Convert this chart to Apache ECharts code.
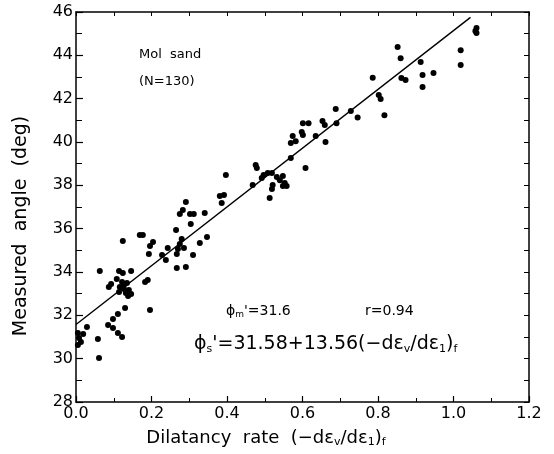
<!DOCTYPE html>
<html>
<head>
<meta charset="utf-8">
<script src="https://cdn.jsdelivr.net/npm/echarts@6/dist/echarts.min.js"></script>
<style>
  html, body { margin: 0; padding: 0; background: #fff; }
  #chart { width: 554px; height: 454px; }
</style>
</head>
<body>
<div id="chart"></div>
<script>
// Mol sand: dilatancy rate at failure vs measured friction angle (130 tests)
const dilatancyRate = [
  0.005, 0.019, 0.008, 0.013, 0.005, 0.029, 0.058, 0.061, 0.063,
  0.085, 0.098, 0.111, 0.122, 0.098, 0.111, 0.130, 0.196, 0.087, 0.093,
  0.108, 0.122, 0.135, 0.116, 0.127, 0.140, 0.146, 0.132, 0.138, 0.127, 0.114,
  0.114, 0.124, 0.146, 0.183, 0.190, 0.193, 0.228, 0.238,
  0.124, 0.169, 0.177, 0.196, 0.204, 0.243, 0.265,
  0.280, 0.275, 0.270, 0.267, 0.286,
  0.291, 0.275, 0.283, 0.302, 0.312, 0.304, 0.341, 0.328, 0.347, 0.310,
  0.267, 0.291, 0.386, 0.381, 0.392, 0.397,
  0.476, 0.479, 0.468, 0.492, 0.497, 0.508, 0.519, 0.513, 0.532, 0.521,
  0.519, 0.540, 0.548, 0.558, 0.548, 0.569, 0.608, 0.574, 0.569, 0.582,
  0.598, 0.601, 0.601, 0.616, 0.635, 0.653, 0.659, 0.661, 0.690, 0.688,
  0.728, 0.746, 0.553,
  0.786, 0.802, 0.807, 0.817, 0.852, 0.860, 0.862, 0.873, 0.913, 0.918,
  0.918, 0.947, 1.019, 1.019, 1.061, 1.058, 1.061
];
const measuredAngle = [
  31.18, 31.14, 30.95, 30.77, 30.63, 31.46, 30.91, 30.03, 34.05,
  31.55, 31.41, 31.18, 31.00, 31.83, 32.06, 32.34, 32.25, 33.31, 33.45,
  33.68, 33.54, 33.49, 33.31, 33.21, 33.17, 32.98, 33.03, 32.89, 33.40, 33.08,
  34.05, 33.95, 34.05, 33.54, 33.63, 34.83, 34.78, 34.55,
  35.43, 35.71, 35.71, 35.20, 35.38, 35.11, 35.94,
  35.52, 35.29, 35.06, 34.83, 35.11,
  37.23, 36.68, 36.86, 36.68, 36.68, 36.21, 36.72, 35.34, 35.61, 34.78,
  34.18, 34.23, 37.18, 37.51, 37.55, 38.48,
  38.94, 38.80, 38.01, 38.34, 38.48, 38.57, 38.57, 37.41, 38.38, 38.01,
  37.83, 38.24, 37.97, 37.97, 38.43, 39.26, 38.80, 40.28, 39.95, 40.04,
  40.46, 40.32, 40.87, 40.87, 40.28, 40.97, 40.78, 40.00, 40.87, 41.52,
  41.43, 41.13, 38.11,
  42.97, 42.17, 41.98, 41.24, 44.38, 43.87, 42.95, 42.86, 43.69, 43.09,
  42.54, 43.18, 44.24, 43.55, 45.26, 45.12, 45.03
];

// Least-squares fit as printed on the figure
const fitIntercept = 31.58;
const fitSlope = 13.56;
const fitRange = [0, 1.045];

const xTickLabels = ['0.0', '0.2', '0.4', '0.6', '0.8', '1.0', '1.2'];
const yTickLabels = ['28', '30', '32', '34', '36', '38', '40', '42', '44', '46'];

const FONT = 'DejaVu Sans';
const points = dilatancyRate.map((x, i) => [x, measuredAngle[i]]);
const fitLine = fitRange.map(x => [x, fitIntercept + fitSlope * x]);

const axisLine = { show: true, onZero: false, lineStyle: { color: '#000', width: 1.5 } };

const chart = echarts.init(document.getElementById('chart'), null, { renderer: 'canvas' });
chart.setOption({
  animation: false,
  backgroundColor: '#fff',
  grid: { left: 76, right: 25, top: 12, bottom: 52, containLabel: false },
  xAxis: [
    {
      type: 'value', position: 'bottom', min: 0, max: 1.2, interval: 0.2,
      axisLine,
      axisTick: { inside: true, length: 6, lineStyle: { color: '#000', width: 1.2 } },
      minorTick: { show: true, splitNumber: 2, length: 4, lineStyle: { color: '#000', width: 1 } },
      splitLine: { show: false },
      axisLabel: {
        color: '#000', fontSize: 16, fontFamily: FONT, margin: 4,
        formatter: v => xTickLabels[Math.round(v / 0.2)]
      }
    },
    {
      type: 'value', position: 'top', min: 0, max: 1.2, interval: 0.1,
      axisLine,
      axisTick: { inside: true, length: 4, lineStyle: { color: '#000', width: 1 } },
      splitLine: { show: false },
      axisLabel: { show: false }
    }
  ],
  yAxis: [
    {
      type: 'value', position: 'left', min: 28, max: 46, interval: 2,
      axisLine,
      axisTick: { inside: true, length: 7, lineStyle: { color: '#000', width: 1.2 } },
      minorTick: { show: true, splitNumber: 2, length: 6, lineStyle: { color: '#000', width: 1 } },
      splitLine: { show: false },
      axisLabel: {
        color: '#000', fontSize: 16, fontFamily: FONT, margin: 3,
        formatter: v => yTickLabels[Math.round((v - 28) / 2)]
      }
    },
    {
      type: 'value', position: 'right', min: 28, max: 46, interval: 1,
      axisLine,
      axisTick: { inside: true, length: 5, lineStyle: { color: '#000', width: 1 } },
      splitLine: { show: false },
      axisLabel: { show: false }
    }
  ],
  series: [
    {
      type: 'line', name: 'fit', data: fitLine, xAxisIndex: 0, yAxisIndex: 0,
      symbol: 'none', lineStyle: { color: '#000', width: 1.4 }, silent: true
    },
    {
      type: 'scatter', name: 'Mol sand', data: points, xAxisIndex: 0, yAxisIndex: 0,
      symbol: 'circle', symbolSize: 6, itemStyle: { color: '#000', opacity: 1 }
    }
  ],
  graphic: [
    {
      type: 'text', x: 21, y: 226, rotation: Math.PI / 2,
      style: {
        text: 'Measured  angle  (deg)', fill: '#000', font: '19px "DejaVu Sans"',
        align: 'center', verticalAlign: 'middle', textAlign: 'center', textVerticalAlign: 'middle'
      }
    },
    {
      type: 'text', x: 266, y: 438,
      style: {
        text: '{m|Dilatancy  rate  (−dε}{s|v}{m|/dε}{s|1}{m|)}{s|f}',
        fill: '#000', align: 'center', verticalAlign: 'middle',
        textAlign: 'center', textVerticalAlign: 'middle',
        rich: {
          m: { fontSize: 18, fontFamily: FONT, lineHeight: 20, fill: '#000', color: '#000' },
          s: { fontSize: 11, fontFamily: FONT, lineHeight: 6, verticalAlign: 'bottom', fill: '#000', color: '#000' }
        }
      }
    },
    {
      type: 'text', x: 139, y: 55,
      style: { text: 'Mol  sand', fill: '#000', font: '13px "DejaVu Sans"', verticalAlign: 'middle', textVerticalAlign: 'middle' }
    },
    {
      type: 'text', x: 139, y: 82,
      style: { text: '(N=130)', fill: '#000', font: '13px "DejaVu Sans"', verticalAlign: 'middle', textVerticalAlign: 'middle' }
    },
    {
      type: 'text', x: 226, y: 311,
      style: {
        text: "{m|ϕ}{s|m}{m|'=31.6}",
        fill: '#000', verticalAlign: 'middle', textVerticalAlign: 'middle',
        rich: {
          m: { fontSize: 14, fontFamily: FONT, lineHeight: 16, fill: '#000', color: '#000' },
          s: { fontSize: 9, fontFamily: FONT, lineHeight: 5, verticalAlign: 'bottom', fill: '#000', color: '#000' }
        }
      }
    },
    {
      type: 'text', x: 365, y: 311,
      style: { text: 'r=0.94', fill: '#000', font: '14px "DejaVu Sans"', verticalAlign: 'middle', textVerticalAlign: 'middle' }
    },
    {
      type: 'text', x: 194, y: 344,
      style: {
        text: "{m|ϕ}{s|s}{m|'=31.58+13.56(−dε}{s|v}{m|/dε}{s|1}{m|)}{s|f}",
        fill: '#000', verticalAlign: 'middle', textVerticalAlign: 'middle',
        rich: {
          m: { fontSize: 19, fontFamily: FONT, lineHeight: 21, fill: '#000', color: '#000' },
          s: { fontSize: 11, fontFamily: FONT, lineHeight: 6, verticalAlign: 'bottom', fill: '#000', color: '#000' }
        }
      }
    }
  ]
});
</script>
</body>
</html>
